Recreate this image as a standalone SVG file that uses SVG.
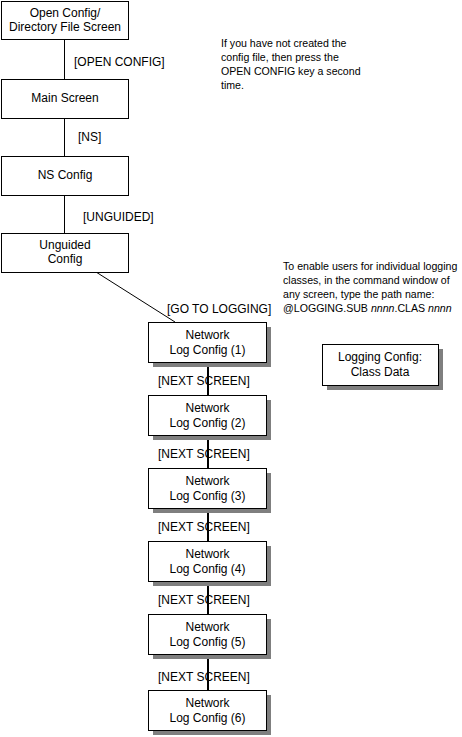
<svg xmlns="http://www.w3.org/2000/svg" width="462" height="737" viewBox="0 0 462 737">
<defs>
<style>
text{font-family:"Liberation Sans",Arial,sans-serif;fill:#000}
.lbl{font-size:12px}
.note{font-size:10.6px}
.box{fill:#fff;stroke:#000;stroke-width:1}
.c{text-anchor:middle}
.thin{stroke:#000;stroke-width:1;fill:none}
.thick{stroke:#000;stroke-width:2;fill:none}
</style>
</defs>
<rect width="462" height="737" fill="#fff"/>
<g id="connectors">
<line class="thin" x1="64.5" y1="39" x2="64.5" y2="79"/>
<line class="thin" x1="64.5" y1="118" x2="64.5" y2="156"/>
<line class="thin" x1="64.5" y1="195" x2="64.5" y2="233"/>
<line class="thin" x1="96" y1="272" x2="175" y2="322"/>
<line class="thick" x1="208" y1="362" x2="208" y2="395"/>
<line class="thick" x1="208" y1="435" x2="208" y2="468"/>
<line class="thick" x1="208" y1="508" x2="208" y2="541"/>
<line class="thick" x1="208" y1="581" x2="208" y2="614"/>
<line class="thick" x1="208" y1="654" x2="208" y2="690"/>
<text class="lbl" x="74" y="66">[OPEN CONFIG]</text>
<text class="lbl" x="78" y="141">[NS]</text>
<text class="lbl" x="83" y="221">[UNGUIDED]</text>
<text class="lbl" x="167" y="313">[GO TO LOGGING]</text>
<text class="lbl" x="158" y="385">[NEXT SCREEN]</text>
<text class="lbl" x="158" y="458">[NEXT SCREEN]</text>
<text class="lbl" x="158" y="531">[NEXT SCREEN]</text>
<text class="lbl" x="158" y="604">[NEXT SCREEN]</text>
<text class="lbl" x="158" y="681">[NEXT SCREEN]</text>
</g>
<g id="open-config">
<rect class="box" x="1.5" y="1.5" width="127" height="38"/>
<text class="lbl c" x="65" y="17">Open Config/</text>
<text class="lbl c" x="65" y="31">Directory File Screen</text>
</g>
<g id="main-screen">
<rect class="box" x="1.5" y="79.5" width="127" height="39"/>
<text class="lbl c" x="65" y="102">Main Screen</text>
</g>
<g id="ns-config">
<rect class="box" x="1.5" y="156.5" width="127" height="39"/>
<text class="lbl c" x="65" y="179">NS Config</text>
</g>
<g id="unguided-config">
<rect class="box" x="1.5" y="233.5" width="127" height="39"/>
<text class="lbl c" x="65" y="249">Unguided</text>
<text class="lbl c" x="65" y="263">Config</text>
</g>
<g id="note-open">
<text class="note" x="221" y="47">If you have not created the</text>
<text class="note" x="221" y="61">config file, then press the</text>
<text class="note" x="221" y="75">OPEN CONFIG key a second</text>
<text class="note" x="221" y="89">time.</text>
</g>
<g id="note-logging">
<text class="note" x="283" y="270">To enable users for individual logging</text>
<text class="note" x="283" y="284">classes, in the command window of</text>
<text class="note" x="283" y="298">any screen, type the path name:</text>
<text class="note" x="283" y="312">@LOGGING.SUB <tspan font-style="italic">nnnn</tspan>.CLAS <tspan font-style="italic">nnnn</tspan></text>
</g>
<g id="logging-class-data">
<rect class="box" x="327" y="349" width="116" height="41" style="fill:#7f7f7f;stroke:none"/>
<rect class="box" x="322.5" y="344.5" width="116" height="41"/>
<text class="lbl c" x="380" y="361">Logging Config:</text>
<text class="lbl c" x="380" y="376">Class Data</text>
</g>
<g id="netlog-1">
<rect class="box" x="153" y="327" width="118" height="40" style="fill:#7f7f7f;stroke:none"/>
<rect class="box" x="148.5" y="322.5" width="118" height="40"/>
<text class="lbl c" x="207.5" y="339">Network</text>
<text class="lbl c" x="207.5" y="354">Log Config (1)</text>
</g>
<g id="netlog-2">
<rect class="box" x="153" y="400" width="118" height="40" style="fill:#7f7f7f;stroke:none"/>
<rect class="box" x="148.5" y="395.5" width="118" height="40"/>
<text class="lbl c" x="207.5" y="412">Network</text>
<text class="lbl c" x="207.5" y="427">Log Config (2)</text>
</g>
<g id="netlog-3">
<rect class="box" x="153" y="473" width="118" height="40" style="fill:#7f7f7f;stroke:none"/>
<rect class="box" x="148.5" y="468.5" width="118" height="40"/>
<text class="lbl c" x="207.5" y="485">Network</text>
<text class="lbl c" x="207.5" y="500">Log Config (3)</text>
</g>
<g id="netlog-4">
<rect class="box" x="153" y="546" width="118" height="40" style="fill:#7f7f7f;stroke:none"/>
<rect class="box" x="148.5" y="541.5" width="118" height="40"/>
<text class="lbl c" x="207.5" y="558">Network</text>
<text class="lbl c" x="207.5" y="573">Log Config (4)</text>
</g>
<g id="netlog-5">
<rect class="box" x="153" y="619" width="118" height="40" style="fill:#7f7f7f;stroke:none"/>
<rect class="box" x="148.5" y="614.5" width="118" height="40"/>
<text class="lbl c" x="207.5" y="631">Network</text>
<text class="lbl c" x="207.5" y="646">Log Config (5)</text>
</g>
<g id="netlog-6">
<rect class="box" x="153" y="695" width="118" height="40" style="fill:#7f7f7f;stroke:none"/>
<rect class="box" x="148.5" y="690.5" width="118" height="40"/>
<text class="lbl c" x="207.5" y="707">Network</text>
<text class="lbl c" x="207.5" y="722">Log Config (6)</text>
</g>
</svg>
